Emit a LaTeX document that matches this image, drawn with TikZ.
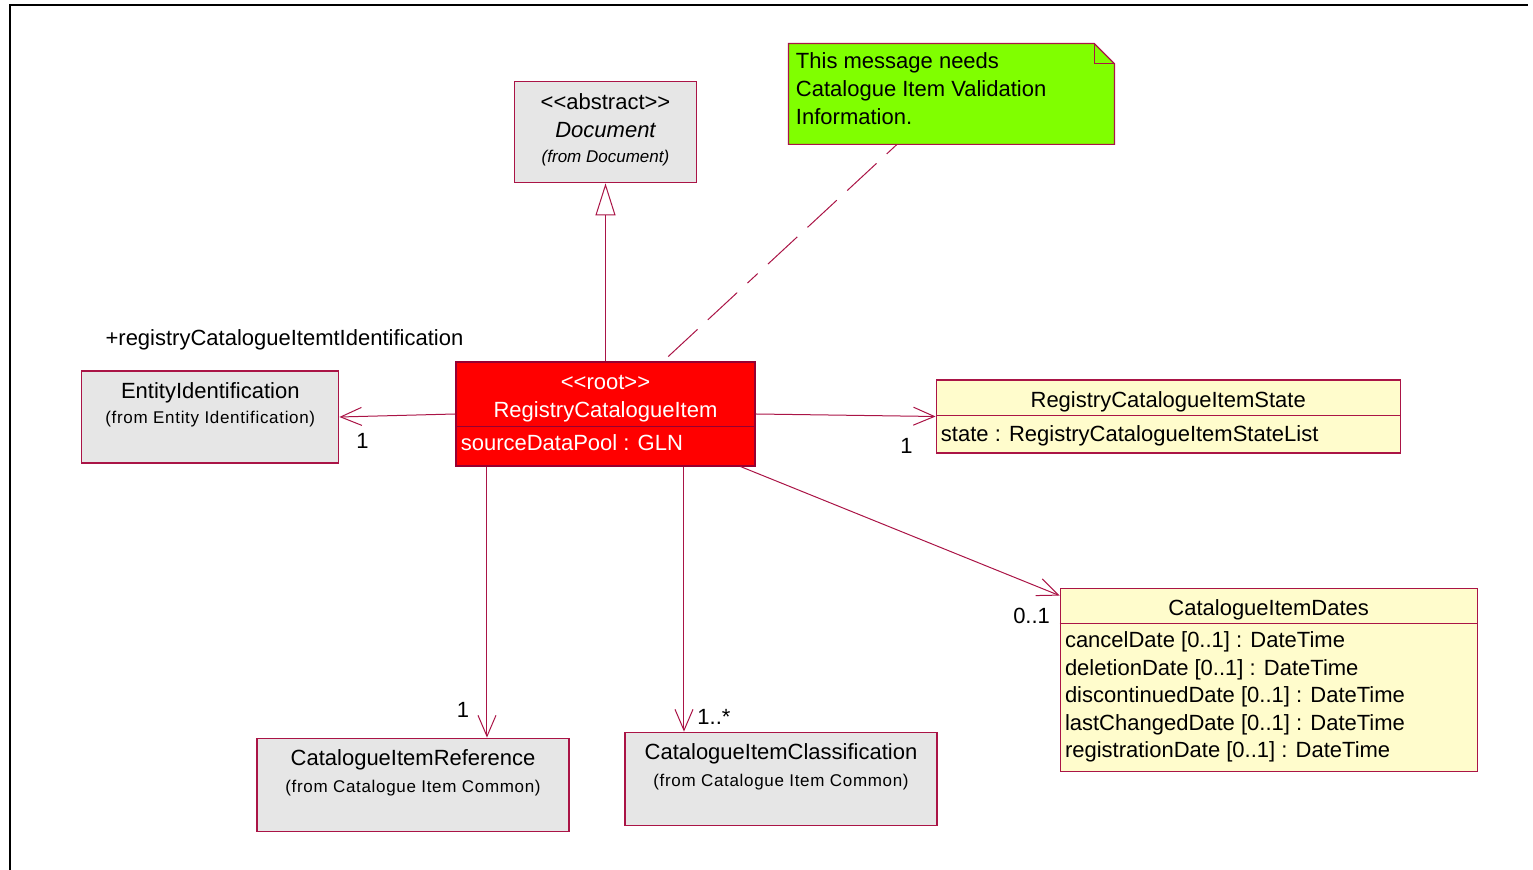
\documentclass[tikz,border=0pt]{standalone}
\usepackage{fontspec}
\setmainfont{Liberation Sans}[Ligatures=TeXOff]
\usepackage{tikz}
\usetikzlibrary{arrows.meta,positioning,calc}
\definecolor{umlline}{RGB}{170,20,70}
\definecolor{rootline}{RGB}{150,0,50}
\definecolor{umlgray}{RGB}{230,230,230}
\definecolor{umlyellow}{RGB}{255,252,204}
\definecolor{notegreen}{RGB}{128,255,0}
\definecolor{rootred}{RGB}{255,0,0}
\tikzset{
	>={Straight Barb[length=10.5pt,width=9pt]},
	% boxes of the classes
	graybox/.style = {rectangle, draw=umlline, fill=umlgray,
	line width=0.6pt, inner sep=0pt},
	yellowbox/.style = {rectangle, draw=umlline, fill=umlyellow,
	line width=0.6pt, inner sep=0pt},
	rootbox/.style = {rectangle, draw=rootline, fill=rootred,
	line width=0.6pt, inner sep=0pt},
	% texts
	title/.style = {font=\fontsize{11}{14}\selectfont, inner sep=0pt,
	text height=8pt, text depth=2pt},
	fromtxt/.style = {font=\fontsize{8.5}{10}\selectfont\addfontfeatures{LetterSpace=4},
	inner sep=0pt, text height=6pt, text depth=1.5pt},
	mult/.style = {font=\fontsize{11}{14}\selectfont, inner sep=0pt,
	text height=8pt, text depth=2pt},
	% connectors
	assoc/.style = {draw=umlline, line width=0.5pt, ->},
	gen/.style = {draw=umlline, line width=0.5pt,
	-{Triangle[open, length=16pt, width=10pt, fill=white]}},
	notelink/.style = {draw=umlline, line width=0.5pt, dash pattern=on 7pt off 7pt on 20pt off 7pt on 20pt off 7pt on 20pt off 7pt},
}

\begin{document}
\begin{tikzpicture}
	\useasboundingbox (-302.75pt,-228pt) rectangle (463.75pt,207pt);
	% frame
	\coordinate (frmtl) at (-297.75pt,204.25pt);
	\coordinate (frmtr) at (461.25pt,204.25pt);
	\coordinate (frmbl) at (-297.75pt,-228pt);
	\draw[line width=1pt] (frmbl) -- (frmtl) -- (frmtr);
	% draw boxes
	\node (root)[rootbox, minimum width=149.5pt, minimum height=52pt] at (0,0) {};
	\node (doc)[graybox, minimum width=91pt, minimum height=50.5pt, above=89pt of root] {};
	\node (entity)[graybox, minimum width=128.5pt, minimum height=46pt, left=58pt of root, yshift=-1.5pt] {};
	\node (state)[yellowbox, minimum width=232pt, minimum height=36.5pt, right=90pt of root, yshift=-1.25pt] {};
	\node (dates)[yellowbox, minimum width=208.5pt, minimum height=91.5pt, below right=60.5pt and 152pt of root] {};
	\node (ref)[graybox, minimum width=156pt, minimum height=46.5pt, below=135.5pt of root, xshift=-96.25pt] {};
	\node (cls)[graybox, minimum width=156pt, minimum height=46.5pt, below=132.5pt of root, xshift=87.75pt] {};
	\node (note)[minimum width=162.5pt, minimum height=50pt, inner sep=0pt, above=108.5pt of root, xshift=173pt] {};
	% note with folded corner
	\filldraw[draw=umlline, fill=notegreen, line width=0.6pt] (note.south west) -- (note.north west)
		-- ([xshift=-10pt]note.north east) -- ([yshift=-10pt]note.north east) -- (note.south east) -- cycle;
	\draw[umlline, line width=0.5pt] ([xshift=-10pt]note.north east) -- ([xshift=-10pt,yshift=-10pt]note.north east)
		-- ([yshift=-10pt]note.north east);
	\node (notetxt)[anchor=north west, align=left, inner sep=0pt, font=\fontsize{11}{14}\selectfont]
		at ([xshift=3.5pt,yshift=-4.5pt]note.north west) {This message needs\\Catalogue Item Validation\\Information.};
	% texts of the boxes
	\node (docst)[title] at ([yshift=-11pt]doc.north) {<<abstract>>};
	\node (docname)[title, font=\fontsize{11}{14}\selectfont\itshape] at ([yshift=-25pt]doc.north) {Document};
	\node (docfrom)[fromtxt, font=\fontsize{8.5}{10}\selectfont\itshape] at ([yshift=-38.5pt]doc.north) {(from Document)};
	\node (rootst)[title, text=white] at ([yshift=-11pt]root.north) {<<root>>};
	\node (rootname)[title, text=white] at ([yshift=-25pt]root.north) {RegistryCatalogueItem};
	\draw[rootline, line width=0.6pt] ([yshift=-32.5pt]root.north west) -- ([yshift=-32.5pt]root.north east);
	\node (rootattr)[title, text=white, anchor=west] at ([xshift=2.5pt,yshift=-41.5pt]root.north west) {sourceDataPool : GLN};
	\node (entityname)[title] at ([yshift=-11pt]entity.north) {EntityIdentification};
	\node (entityfrom)[fromtxt] at ([yshift=-24.5pt]entity.north) {(from Entity Identification)};
	\node (statename)[title] at ([yshift=-11pt]state.north) {RegistryCatalogueItemState};
	\draw[umlline, line width=0.6pt] ([yshift=-18pt]state.north west) -- ([yshift=-18pt]state.north east);
	\node (stateattr)[title, anchor=west] at ([xshift=2.5pt,yshift=-28pt]state.north west) {state : RegistryCatalogueItemStateList};
	\node (datesname)[title] at ([yshift=-11pt]dates.north) {CatalogueItemDates};
	\draw[umlline, line width=0.6pt] ([yshift=-18pt]dates.north west) -- ([yshift=-18pt]dates.north east);
	\node (datesattr)[anchor=north west, align=left, inner sep=0pt, font=\fontsize{11}{13.75}\selectfont]
		at ([xshift=2.5pt,yshift=-22pt]dates.north west)
		{cancelDate [0..1] : DateTime\\deletionDate [0..1] : DateTime\\discontinuedDate [0..1] : DateTime\\lastChangedDate [0..1] : DateTime\\registrationDate [0..1] : DateTime};
	\node (refname)[title] at ([yshift=-11pt]ref.north) {CatalogueItemReference};
	\node (reffrom)[fromtxt] at ([yshift=-25pt]ref.north) {(from Catalogue Item Common)};
	\node (clsname)[title] at ([yshift=-11pt]cls.north) {CatalogueItemClassification};
	\node (clsfrom)[fromtxt] at ([yshift=-25pt]cls.north) {(from Catalogue Item Common)};
	% draw arrows between nodes
	\draw[gen] (root.north) -- (doc.south);
	\draw[notelink] ([xshift=-27.25pt]note.south) -- ([xshift=28.75pt]root.north);
	\draw[assoc] (root.west) -- (entity.east);
	\draw[assoc] (root.east) -- (state.west);
	\draw[assoc] ([xshift=-7.5pt]root.south east) -- ([yshift=-4pt]dates.north west);
	\draw[assoc] ([xshift=-59.25pt]root.south) -- ([xshift=-59.25pt]root.south |- ref.north);
	\draw[assoc] ([xshift=39.25pt]root.south) -- ([xshift=39.25pt]root.south |- cls.north);
	% multiplicities and role
	\node (role)[mult, anchor=west] at ([xshift=12pt,yshift=15.5pt]entity.north west) {+registryCatalogueItemtIdentification};
	\node (entitymult)[mult] at ([xshift=11.5pt,yshift=-13pt]entity.east) {1};
	\node (statemult)[mult] at ([xshift=-14.5pt,yshift=-15.5pt]state.west) {1};
	\node (datesmult)[mult] at ([xshift=-14pt,yshift=-15pt]dates.north west) {0..1};
	\node (refmult)[mult] at ([xshift=25pt,yshift=13pt]ref.north) {1};
	\node (clsmult)[mult] at ([xshift=-33.5pt,yshift=6.5pt]cls.north) {1..*};
\end{tikzpicture}
\end{document}
